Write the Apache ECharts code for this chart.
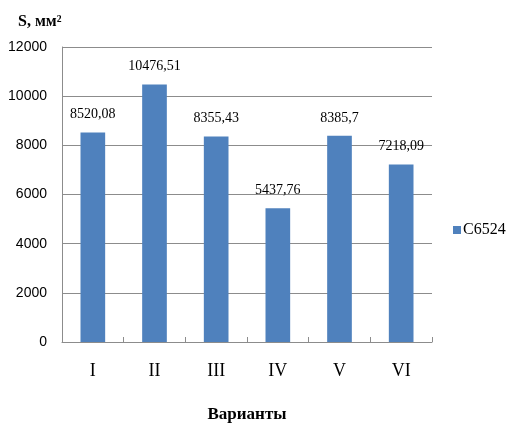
<!DOCTYPE html>
<html>
<head>
<meta charset="utf-8">
<script src="https://cdn.jsdelivr.net/npm/echarts@6/dist/echarts.min.js"></script>
<style>
  html, body { margin: 0; padding: 0; background: #fff; }
  #chart { width: 506px; height: 428px; }
</style>
</head>
<body>
<div id="chart"></div>
<script>
// Площадь S для вариантов I–VI
var categories = ['I', 'II', 'III', 'IV', 'V', 'VI'];
var seriesName = 'С6524';
var areaValues = [8520.08, 10476.51, 8355.43, 5437.76, 8385.7, 7218.09];
var yTicks = { min: 0, max: 12000, interval: 2000 };

var serif = '"Liberation Serif", "Times New Roman", serif';
var sans = '"Liberation Sans", Arial, sans-serif';
var gridColor = '#8c8c8c';

var chart = echarts.init(document.getElementById('chart'), null, { renderer: 'canvas' });

chart.setOption({
  animation: false,
  backgroundColor: '#ffffff',
  grid: { left: 62, right: 74, top: 47, bottom: 86, containLabel: false },
  title: {
    text: 'S, мм²',
    left: 13,
    top: 9,
    textStyle: { fontFamily: serif, fontWeight: 'bold', fontSize: 16, color: '#000' }
  },
  legend: {
    data: [seriesName],
    orient: 'vertical',
    left: 448,
    top: 217,
    itemWidth: 8,
    itemHeight: 8,
    itemGap: 4,
    icon: 'rect',
    textStyle: { fontFamily: serif, fontSize: 16, color: '#000', padding: [0, 0, 0, -3] }
  },
  xAxis: {
    type: 'category',
    data: categories,
    name: 'Варианты',
    nameLocation: 'middle',
    nameGap: 64,
    nameTextStyle: { fontFamily: serif, fontWeight: 'bold', fontSize: 17, color: '#000' },
    axisLine: { lineStyle: { color: gridColor, width: 1 } },
    axisTick: { show: true, inside: true, length: 5, lineStyle: { color: gridColor } },
    axisLabel: { margin: 20, fontFamily: serif, fontSize: 18, color: '#000' }
  },
  yAxis: {
    type: 'value',
    min: yTicks.min,
    max: yTicks.max,
    interval: yTicks.interval,
    axisLine: { show: true, lineStyle: { color: gridColor, width: 1 } },
    axisTick: { show: false },
    splitLine: { lineStyle: { color: gridColor, width: 1 } },
    axisLabel: {
      margin: 15,
      fontFamily: sans,
      fontSize: 14,
      color: '#000',
      formatter: function (v) { return String(v); }
    }
  },
  series: [{
    name: seriesName,
    type: 'bar',
    data: areaValues,
    barWidth: '40%',
    itemStyle: { color: '#4f81bd' },
    label: {
      show: true,
      position: 'top',
      distance: 11,
      fontFamily: serif,
      fontSize: 14,
      color: '#000',
      formatter: function (p) { return String(p.value).replace('.', ','); }
    }
  }]
});
</script>
</body>
</html>
